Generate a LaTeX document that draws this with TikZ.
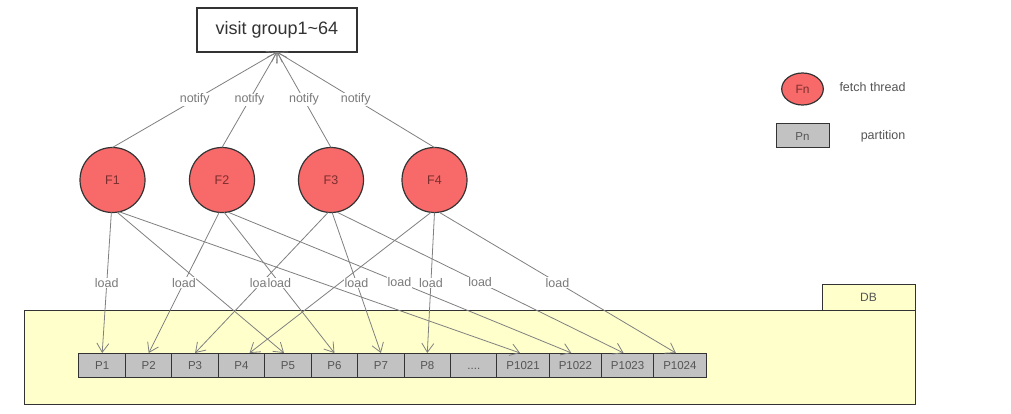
\documentclass[tikz,border=0pt]{standalone}
\usepackage{fontspec}
\setmainfont{Liberation Sans}
\usetikzlibrary{arrows.meta,shapes.geometric}
\definecolor{circfill}{HTML}{F86A6A}
\definecolor{dbfill}{HTML}{FFFFCC}
\definecolor{pfill}{HTML}{C2C2C2}
\definecolor{edgecol}{HTML}{808080}
\definecolor{labcol}{HTML}{7A7A7A}
\definecolor{strokecol}{HTML}{333333}
\definecolor{textred}{HTML}{7A2E2E}
\definecolor{ptext}{HTML}{555555}
\begin{document}
\begin{tikzpicture}[x=1pt,y=-1pt,
 fthread/.style={circle,draw=strokecol,line width=1.2pt,fill=circfill,minimum size=65pt,inner sep=0pt,outer sep=0pt,font=\fontsize{12.5}{14}\selectfont,text=textred},
 pbox/.style={rectangle,draw=strokecol,line width=1pt,fill=pfill,minimum height=24pt,inner sep=0pt,outer sep=0pt,text height=8.3pt,text depth=0pt,font=\fontsize{11.5}{13}\selectfont,text=ptext},
 pnarrow/.style={pbox,minimum width=46.44pt},
 pwide/.style={pbox,minimum width=52.25pt},
 loadline/.style={draw=edgecol,line width=0.8pt,-{Straight Barb[length=9pt,width=12pt]}},
 lbl/.style={fill=white,inner sep=0.6pt,text=labcol,font=\fontsize{12.5}{14}\selectfont},
 dbbox/.style={rectangle,draw=strokecol,line width=1pt,fill=dbfill,inner sep=0pt,outer sep=0pt},
]
\useasboundingbox[fill=white] (0,0) rectangle (1011,414);

% DB container
\node[dbbox,minimum width=891pt,minimum height=94pt] (db) at (469.5,357) {};
\node[dbbox,minimum width=93pt,minimum height=26pt,font=\fontsize{12}{14}\selectfont,text=ptext] (dbtab) at (868.5,297) {DB};

% top box
\node[draw=strokecol,line width=1.4pt,fill=white,minimum width=160pt,minimum height=44pt,inner sep=0pt,outer sep=0pt,font=\fontsize{18}{20}\selectfont,text=strokecol] (top) at (277,30) {visit group1\textasciitilde 64};

% threads
\node[fthread] (F1) at (112.5,180) {F1};
\node[fthread] (F2) at (222,180) {F2};
\node[fthread] (F3) at (331,180) {F3};
\node[fthread] (F4) at (434.5,180) {F4};

% partitions
\node[pnarrow] (P1) at (102.2,365) {P1};
\node[pnarrow] (P2) at (148.7,365) {P2};
\node[pnarrow] (P3) at (195.1,365) {P3};
\node[pnarrow] (P4) at (241.5,365) {P4};
\node[pnarrow] (P5) at (288.0,365) {P5};
\node[pnarrow] (P6) at (334.4,365) {P6};
\node[pnarrow] (P7) at (380.9,365) {P7};
\node[pnarrow] (P8) at (427.3,365) {P8};
\node[pnarrow] (Pdots) at (473.8,365) {....};
\node[pwide] (P1021) at (523.1,365) {P1021};
\node[pwide] (P1022) at (575.4,365) {P1022};
\node[pwide] (P1023) at (627.6,365) {P1023};
\node[pwide] (P1024) at (679.9,365) {P1024};

% legend
\node[ellipse,draw=strokecol,line width=1.2pt,fill=circfill,minimum width=41.6pt,minimum height=32pt,inner sep=0pt,font=\fontsize{12}{14}\selectfont,text=textred] (legF) at (802.5,89) {Fn};
\node[text=ptext,font=\fontsize{12.5}{14}\selectfont] (legFt) at (872.5,87) {fetch thread};
\node[pbox,minimum width=53pt,font=\fontsize{11.5}{13}\selectfont] (legP) at (802.5,136) {Pn};
\node[text=ptext,font=\fontsize{12.5}{14}\selectfont] (legPt) at (883,136) {partition};

% notify edges
\draw[loadline] (F1.north) -- coordinate[midway] (n1) (top.south);
\draw[loadline] (F2.north) -- coordinate[midway] (n2) (top.south);
\draw[loadline] (F3.north) -- coordinate[midway] (n3) (top.south);
\draw[loadline] (F4.north) -- coordinate[midway] (n4) (top.south);

% load edges
\draw[loadline] (F1.-92) -- coordinate[midway] (m11) (P1.north);
\draw[loadline] (F1.-82) -- ([xshift=-4pt]P5.north);
\draw[loadline] (F1.-78) -- ([xshift=-3pt]P1021.north);
\draw[loadline] (F2.-95) -- coordinate[midway] (m21) (P2.north);
\draw[loadline] (F2.-86) -- coordinate[midway] (m22) (P6.north);
\draw[loadline] (F2.-80) -- coordinate[midway] (m23) ([xshift=-4pt]P1022.north);
\draw[loadline] (F3.-95) -- coordinate[midway] (m31) (P3.north);
\draw[loadline] (F3.-88) -- coordinate[midway] (m32) (P7.north);
\draw[loadline] (F3.-80) -- coordinate[midway] (m33) ([xshift=-4pt]P1023.north);
\draw[loadline] (F4.-96) -- ([xshift=8pt]P4.north);
\draw[loadline] (F4.-90) -- coordinate[midway] (m42) (P8.north);
\draw[loadline] (F4.-82) -- coordinate[midway] (m43) ([xshift=-4pt]P1024.north);

% labels
\foreach \c in {n1,n2,n3,n4} \node[lbl] at (\c) {notify};
\foreach \c in {m11,m21,m31,m22,m32,m23,m42,m33,m43} \node[lbl] at (\c) {load};
\end{tikzpicture}
\end{document}
